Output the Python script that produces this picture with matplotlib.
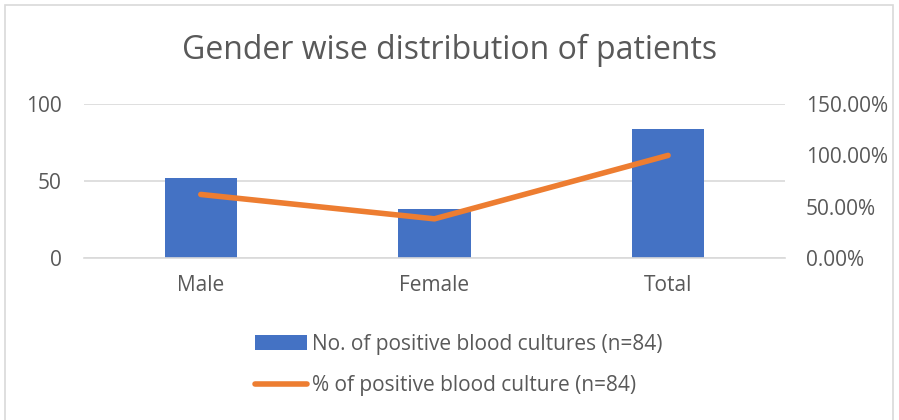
import matplotlib
matplotlib.use('Agg')
from matplotlib import pyplot as plt
from matplotlib.ticker import FuncFormatter
from matplotlib.patches import Rectangle
from matplotlib.lines import Line2D
from matplotlib.patches import Patch

# Data
categories = ['Male', 'Female', 'Total']
counts = [52, 32, 84]
percents = [61.9, 38.1, 100.0]

bar_label = 'No. of positive blood cultures (n=84)'
line_label = '% of positive blood culture (n=84)'

grey = '#595959'
blue = '#4472C4'
orange = '#ED7D31'

plt.rcParams['font.family'] = ['Open Sans', 'DejaVu Sans']

fig = plt.figure(figsize=(8.99, 4.2), dpi=100)
ax = fig.add_axes([0.0934, 0.386, 0.7797, 0.366])
x = range(len(categories))
ax.bar(x, counts, width=0.31, color=blue, zorder=2)
ax.set_xlim(-0.5, 2.5)
ax.set_ylim(0, 100)
ax.set_yticks([0, 50, 100])
ax.grid(axis='y', color='#d9d9d9', linewidth=1.2, zorder=0)
ax.set_xticks(list(x))
ax.set_xticklabels(categories)
for s in ax.spines.values():
    s.set_visible(False)
ax.spines['bottom'].set_visible(True)
ax.spines['bottom'].set_color('#d9d9d9')
ax.spines['bottom'].set_linewidth(1.2)
ax.tick_params(length=0, labelsize=15, colors=grey, pad=12)
ax.tick_params(axis='y', pad=16)

ax2 = ax.twinx()
ax2.plot(list(x), percents, color=orange, linewidth=4, solid_capstyle='round', zorder=3)
ax2.set_ylim(0, 150)
ax2.set_yticks([0, 50, 100, 150])
ax2.yaxis.set_major_formatter(FuncFormatter(lambda v, p: '{:.2f}%'.format(v)))
for s in ax2.spines.values():
    s.set_visible(False)
ax2.tick_params(length=0, labelsize=15, colors=grey, pad=15)

fig.text(0.5, 0.88, 'Gender wise distribution of patients', ha='center', va='center',
         fontsize=23, color=grey)

handles = [Patch(facecolor=blue, edgecolor='none'),
           Line2D([0], [0], color=orange, linewidth=4, solid_capstyle='round')]
fig.legend(handles, [bar_label, line_label], loc='center', bbox_to_anchor=(0.51, 0.131),
           frameon=False, fontsize=15, labelcolor=grey, handlelength=2.5,
           handletextpad=0.25, labelspacing=1.0)

fig.patches.append(Rectangle((5 / 899, -0.01), 888 / 899, 1 - 5 / 420 + 0.01,
                             transform=fig.transFigure, fill=False,
                             edgecolor='#d9d9d9', linewidth=1.2))

fig.savefig('out.png', dpi=100)
